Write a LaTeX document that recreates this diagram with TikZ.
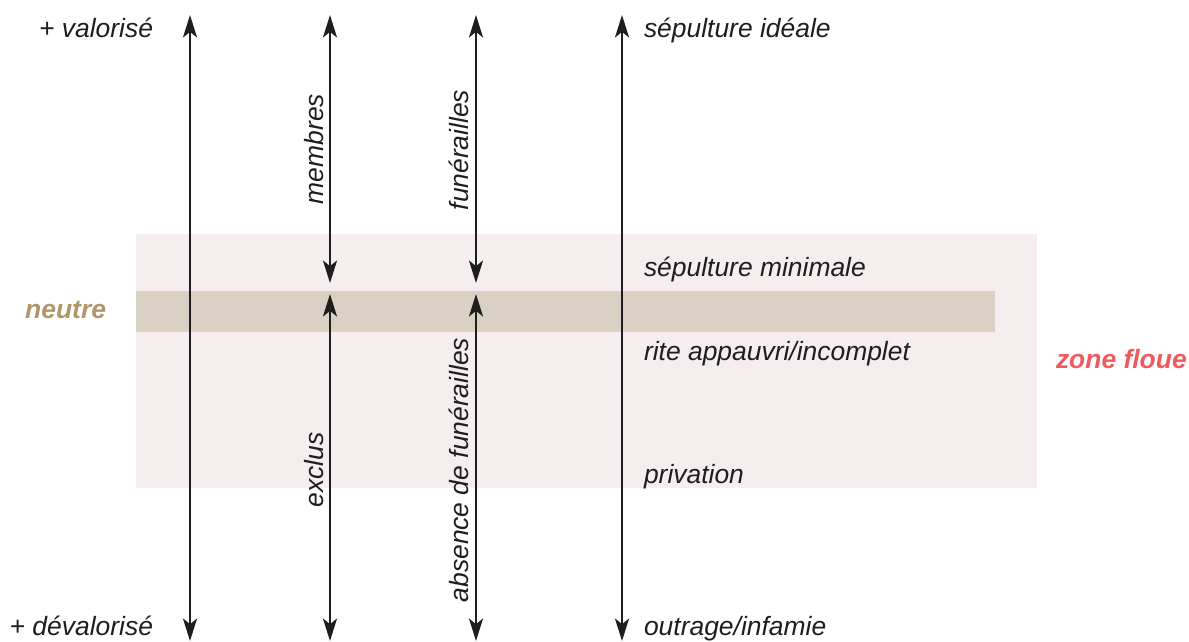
\documentclass[tikz,border=0pt]{standalone}
\usepackage{fontspec}
\setmainfont{Liberation Sans}
\usetikzlibrary{arrows.meta}
\definecolor{zonerose}{HTML}{F6EDEF}
\definecolor{bandeneutre}{HTML}{D9D2C4}
\definecolor{texteneutre}{HTML}{B0976A}
\definecolor{textefloue}{HTML}{F05A5E}
\definecolor{trait}{HTML}{1E1E1E}
\begin{document}
\begin{tikzpicture}[x=0.025cm, y=-0.025cm, font=\fontsize{18.8}{22}\selectfont\itshape, every node/.style={inner sep=0pt, outer sep=0pt, text=trait}, fleche/.style={line width=1.4pt, draw=trait, {Stealth[length=16pt, width=10pt, inset=4pt]}-{Stealth[length=16pt, width=10pt, inset=4pt]}}]
	\useasboundingbox (0, 0) rectangle (1189, 641);
	
	% Zones de fond
	\fill[zonerose] (136, 234) rectangle (1037, 488);
	\fill[bandeneutre] (136, 291) rectangle (995, 332);
	\node[anchor=base east, font=\fontsize{18.8}{22}\selectfont\itshape\bfseries, text=texteneutre] (neutre) at (106, 318) {neutre};
	\node[anchor=base west, font=\fontsize{18.8}{22}\selectfont\itshape\bfseries, text=textefloue] (floue) at (1056, 368) {zone floue};
	
	% Extrémités des axes
	\coordinate (haut1) at (190, 15);
	\coordinate (bas1) at (190, 641);
	\coordinate (haut2) at (330, 15);
	\coordinate (mil2a) at (330, 283);
	\coordinate (mil2b) at (330, 294);
	\coordinate (bas2) at (330, 641);
	\coordinate (haut3) at (476, 15);
	\coordinate (mil3a) at (476, 283);
	\coordinate (mil3b) at (476, 294);
	\coordinate (bas3) at (476, 641);
	\coordinate (haut4) at (622, 15);
	\coordinate (bas4) at (622, 641);
	
	% Axes
	\draw[fleche] (haut1) -- (bas1);
	\draw[fleche] (haut2) -- (mil2a);
	\draw[fleche] (mil2b) -- (bas2);
	\draw[fleche] (haut3) -- (mil3a);
	\draw[fleche] (mil3b) -- (bas3);
	\draw[fleche] (haut4) -- (bas4);
	
	% Pôles
	\node[anchor=base east] (valorise) at (153, 37) {+ valorisé};
	\node[anchor=base east] (devalorise) at (153, 635) {+ dévalorisé};
	
	% Étiquettes verticales
	\node[rotate=90, anchor=base] (membres) at (323, 149) {membres};
	\node[rotate=90, anchor=base] (funerailles) at (468, 150) {funérailles};
	\node[rotate=90, anchor=base] (exclus) at (323, 470) {exclus};
	\node[rotate=90, anchor=base] (absence) at (468, 470) {absence de funérailles};
	
	% Échelle de droite
	\node[anchor=base west] (ideale) at (644, 37) {sépulture idéale};
	\node[anchor=base west] (minimale) at (644, 276) {sépulture minimale};
	\node[anchor=base west] (rite) at (644, 360) {rite appauvri/incomplet};
	\node[anchor=base west] (privation) at (644, 483) {privation};
	\node[anchor=base west] (outrage) at (644, 635) {outrage/infamie};
\end{tikzpicture}
\end{document}
